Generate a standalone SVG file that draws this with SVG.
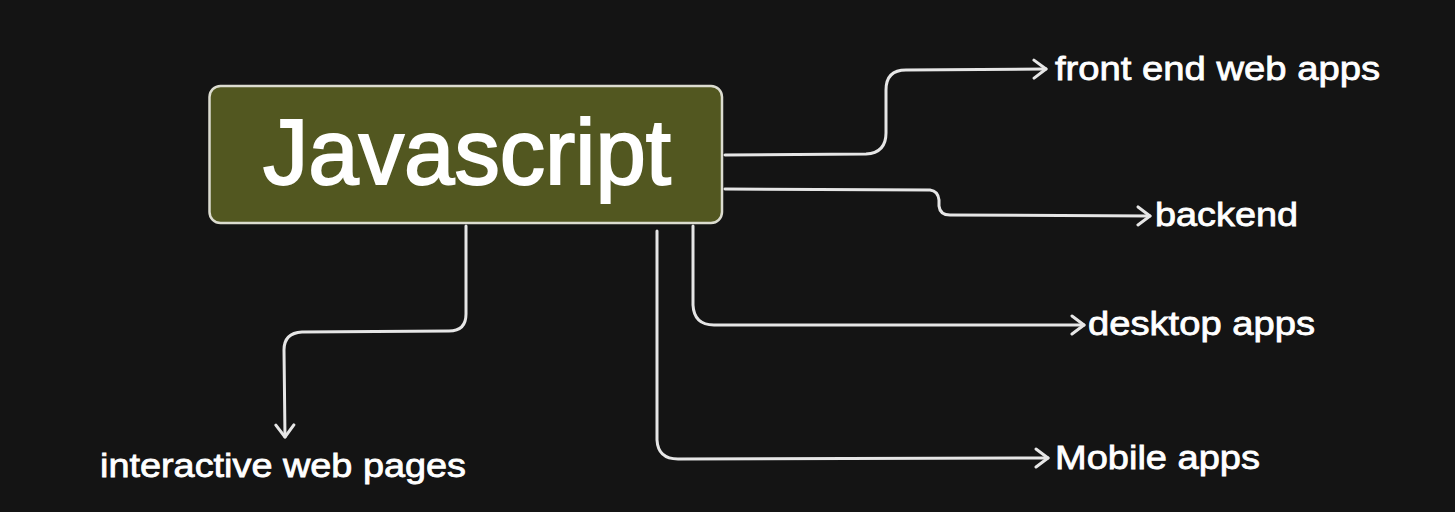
<svg xmlns="http://www.w3.org/2000/svg" width="1455" height="512" viewBox="0 0 1455 512">
<defs>
<marker id="arr" viewBox="0 0 16 22" refX="14" refY="11" markerWidth="16" markerHeight="22" markerUnits="userSpaceOnUse" orient="auto">
<path d="M2,2 L14,11 L2,20" fill="none" stroke="#e6e6e6" stroke-width="3" stroke-linecap="round" stroke-linejoin="round"/>
</marker>
</defs>
<style>
.c{fill:none;stroke:#e6e6e6;stroke-width:3;stroke-linecap:round;stroke-linejoin:round}
.lbl{font-family:"Liberation Sans",Arial,sans-serif;fill:#ffffff;stroke:#ffffff;stroke-width:0.8;font-size:34px}
.title{font-family:"Liberation Sans",Arial,sans-serif;fill:#ffffff;stroke:#ffffff;stroke-width:2;font-size:92px}
</style>
<rect width="1455" height="512" fill="#141414"/>
<g id="connectors">
<path class="c" marker-end="url(#arr)" d="M725,155 L866,154 Q886,153 886,133 L886,90 Q886,70 906,70 L1046,69"/>
<path class="c" marker-end="url(#arr)" d="M725,189 L930,190 Q938,191 939,200 L939,206 Q940,215 950,215 L1150,216"/>
<path class="c" marker-end="url(#arr)" d="M693,226 L693,305 Q694,325 714,325 L1084,325"/>
<path class="c" marker-end="url(#arr)" d="M657,231 L657,440 Q658,459 678,459 L1048,458"/>
<path class="c" marker-end="url(#arr)" d="M466,226 L466,314 Q466,331 449,331 L302,332 Q284,333 284,350 L285,437"/>
</g>
<g id="javascript">
<rect x="209.5" y="86" width="512.5" height="137" rx="11" fill="#525720" stroke="#dcdcd0" stroke-width="2.5"/>
<text class="title" x="263" y="184" textLength="408" lengthAdjust="spacingAndGlyphs">Javascript</text>
</g>
<g id="front-end"><text class="lbl" x="1055" y="80" textLength="325" lengthAdjust="spacingAndGlyphs">front end web apps</text></g>
<g id="backend"><text class="lbl" x="1155" y="226" textLength="143" lengthAdjust="spacingAndGlyphs">backend</text></g>
<g id="desktop"><text class="lbl" x="1088" y="335" textLength="227" lengthAdjust="spacingAndGlyphs">desktop apps</text></g>
<g id="mobile"><text class="lbl" x="1055" y="469" textLength="205" lengthAdjust="spacingAndGlyphs">Mobile apps</text></g>
<g id="interactive"><text class="lbl" x="100" y="477" textLength="366" lengthAdjust="spacingAndGlyphs">interactive web pages</text></g>
</svg>
